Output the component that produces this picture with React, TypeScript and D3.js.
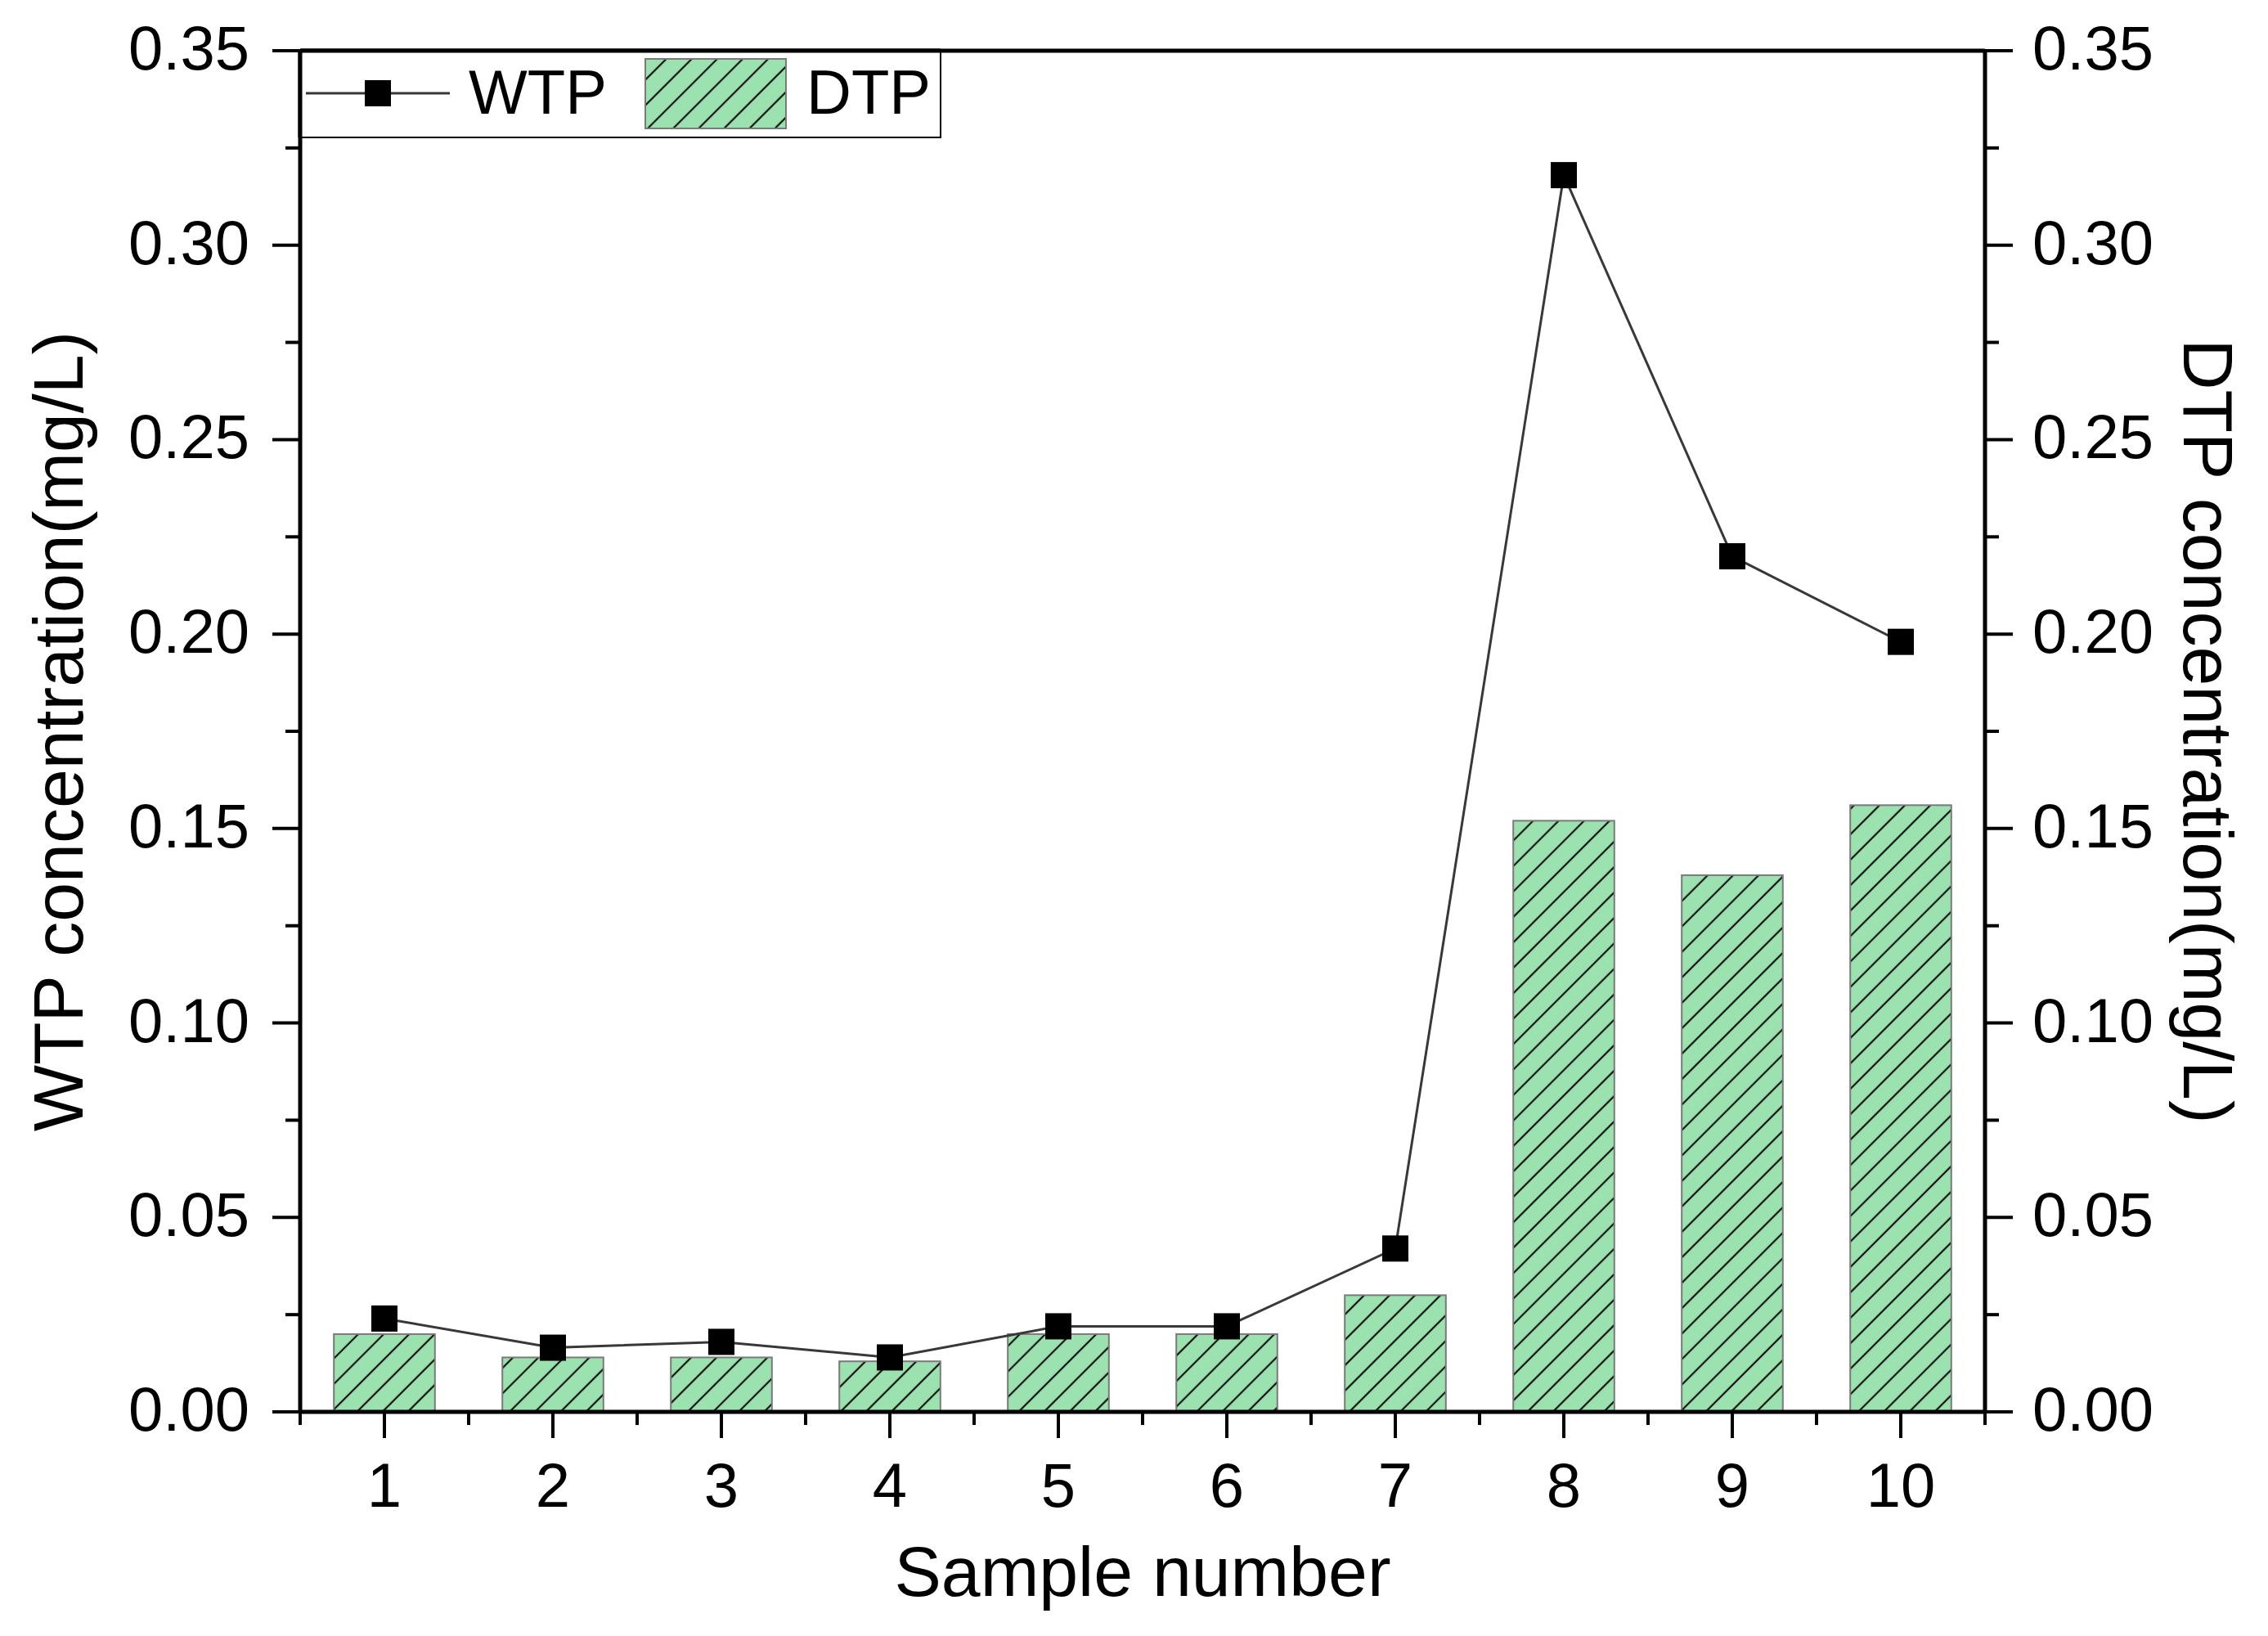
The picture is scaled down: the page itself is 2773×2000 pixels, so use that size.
import React from "react";
import * as d3 from "d3";

const samples = [1, 2, 3, 4, 5, 6, 7, 8, 9, 10];
const wtpValues = [0.024, 0.0165, 0.018, 0.014, 0.022, 0.022, 0.042, 0.318, 0.22, 0.198];
const dtpValues = [0.02, 0.014, 0.014, 0.013, 0.02, 0.02, 0.03, 0.152, 0.138, 0.156];
const yTicks = [0, 0.05, 0.1, 0.15, 0.2, 0.25, 0.3, 0.35];
const yTickLabels = ["0.00", "0.05", "0.10", "0.15", "0.20", "0.25", "0.30", "0.35"];
const yMinorTicks = [0.025, 0.075, 0.125, 0.175, 0.225, 0.275, 0.325];
const xMinorTicks = [0.5, 1.5, 2.5, 3.5, 4.5, 5.5, 6.5, 7.5, 8.5, 9.5, 10.5];
const seriesNames = ["WTP", "DTP"];

const W = 2773;
const H = 2000;
const L = 367, R = 2427, T = 62, B = 1726;
const FONT = "'Liberation Sans', Arial, Helvetica, sans-serif";
const GREEN = "#9be2b0";

export default function App() {
  const x = d3.scaleLinear().domain([0.5, 10.5]).range([L, R]);
  const y = d3.scaleLinear().domain([0, 0.35]).range([B, T]);
  const y2 = d3.scaleLinear().domain([0, 0.35]).range([B, T]);
  const step = x(2) - x(1);
  const bw = step * 0.6;
  const line = d3
    .line<number>()
    .x((_, i) => x(samples[i]))
    .y((d) => y(d));
  const axisW = 5;
  const tickW = 4;
  const ms = 32;

  return (
    <svg
      width={W}
      height={H}
      viewBox={`0 0 ${W} ${H}`}
      style={{ position: "absolute", left: 0, top: 0, display: "block", background: "#fff" }}
      fontFamily={FONT}
    >
      <defs>
        <pattern
          id="hatch"
          patternUnits="userSpaceOnUse"
          width={22}
          height={22}
          patternTransform="rotate(45)"
        >
          <rect width={22} height={22} fill={GREEN} />
          <line x1={11} y1={0} x2={11} y2={22} stroke="#111" strokeWidth={2.2} />
        </pattern>
      </defs>
      <rect x={0} y={0} width={W} height={H} fill="#fff" />

      {/* bars (DTP, right axis) */}
      {dtpValues.map((v, i) => (
        <rect
          key={"b" + i}
          x={x(samples[i]) - bw / 2}
          y={y2(v)}
          width={bw}
          height={B - y2(v)}
          fill="url(#hatch)"
          stroke="#7a7a7a"
          strokeWidth={2}
        />
      ))}

      {/* WTP line */}
      <path d={line(wtpValues) || ""} fill="none" stroke="#383838" strokeWidth={3} />
      {wtpValues.map((v, i) => (
        <rect
          key={"m" + i}
          x={x(samples[i]) - ms / 2}
          y={y(v) - ms / 2}
          width={ms}
          height={ms}
          fill="#000"
        />
      ))}

      {/* axes lines */}
      <line x1={L} y1={T} x2={R} y2={T} stroke="#000" strokeWidth={axisW} />
      <line x1={L - 2} y1={B} x2={R + 2} y2={B} stroke="#000" strokeWidth={axisW} />
      <line x1={L} y1={T - 2} x2={L} y2={B + 2} stroke="#000" strokeWidth={axisW} />
      <line x1={R} y1={T - 2} x2={R} y2={B + 2} stroke="#000" strokeWidth={axisW} />

      {/* left y ticks */}
      {yTicks.map((t, i) => (
        <g key={"yl" + i}>
          <line x1={L - 34} x2={L} y1={y(t)} y2={y(t)} stroke="#000" strokeWidth={tickW} />
          <text x={L - 62} y={y(t) + 23} fontSize={76} textAnchor="end" fill="#000">
            {yTickLabels[i]}
          </text>
        </g>
      ))}
      {yMinorTicks.map((t, i) => (
        <line key={"ylm" + i} x1={L - 18} x2={L} y1={y(t)} y2={y(t)} stroke="#000" strokeWidth={tickW} />
      ))}

      {/* right y ticks */}
      {yTicks.map((t, i) => (
        <g key={"yr" + i}>
          <line x1={R} x2={R + 34} y1={y2(t)} y2={y2(t)} stroke="#000" strokeWidth={tickW} />
          <text x={R + 58} y={y2(t) + 23} fontSize={76} textAnchor="start" fill="#000">
            {yTickLabels[i]}
          </text>
        </g>
      ))}
      {yMinorTicks.map((t, i) => (
        <line key={"yrm" + i} x1={R} x2={R + 17} y1={y2(t)} y2={y2(t)} stroke="#000" strokeWidth={tickW} />
      ))}

      {/* x ticks */}
      {samples.map((s, i) => (
        <g key={"x" + i}>
          <line x1={x(s)} x2={x(s)} y1={B} y2={B + 32} stroke="#000" strokeWidth={tickW} />
          <text x={x(s)} y={1842} fontSize={76} textAnchor="middle" fill="#000">
            {String(s)}
          </text>
        </g>
      ))}
      {xMinorTicks.map((t, i) => (
        <line key={"xm" + i} x1={x(t)} x2={x(t)} y1={B} y2={B + 16} stroke="#000" strokeWidth={tickW} />
      ))}

      {/* axis titles */}
      <text x={(L + R) / 2} y={1951} fontSize={86} textAnchor="middle" fill="#000">
        Sample number
      </text>
      <text
        transform={`translate(101, ${(T + B) / 2}) rotate(-90)`}
        fontSize={86}
        textAnchor="middle"
        fill="#000"
      >
        WTP concentration(mg/L)
      </text>
      <text
        transform={`translate(2670, ${(T + B) / 2}) rotate(90)`}
        fontSize={86}
        textAnchor="middle"
        fill="#000"
      >
        DTP concentration(mg/L)
      </text>

      {/* legend */}
      <rect x={L} y={T} width={1150 - L} height={168 - T} fill="#fff" stroke="#000" strokeWidth={2} />
      <line x1={L} y1={T} x2={1150} y2={T} stroke="#000" strokeWidth={axisW} />
      <line x1={L} y1={T} x2={L} y2={168} stroke="#000" strokeWidth={axisW} />
      <line x1={374} x2={550} y1={114} y2={114} stroke="#383838" strokeWidth={3} />
      <rect x={462 - ms / 2} y={114 - ms / 2} width={ms} height={ms} fill="#000" />
      <text x={573} y={139} fontSize={76} fill="#000">
        {seriesNames[0]}
      </text>
      <rect x={789} y={72} width={172} height={85} fill="url(#hatch)" stroke="#7a7a7a" strokeWidth={2} />
      <text x={986} y={139} fontSize={76} fill="#000">
        {seriesNames[1]}
      </text>
    </svg>
  );
}
